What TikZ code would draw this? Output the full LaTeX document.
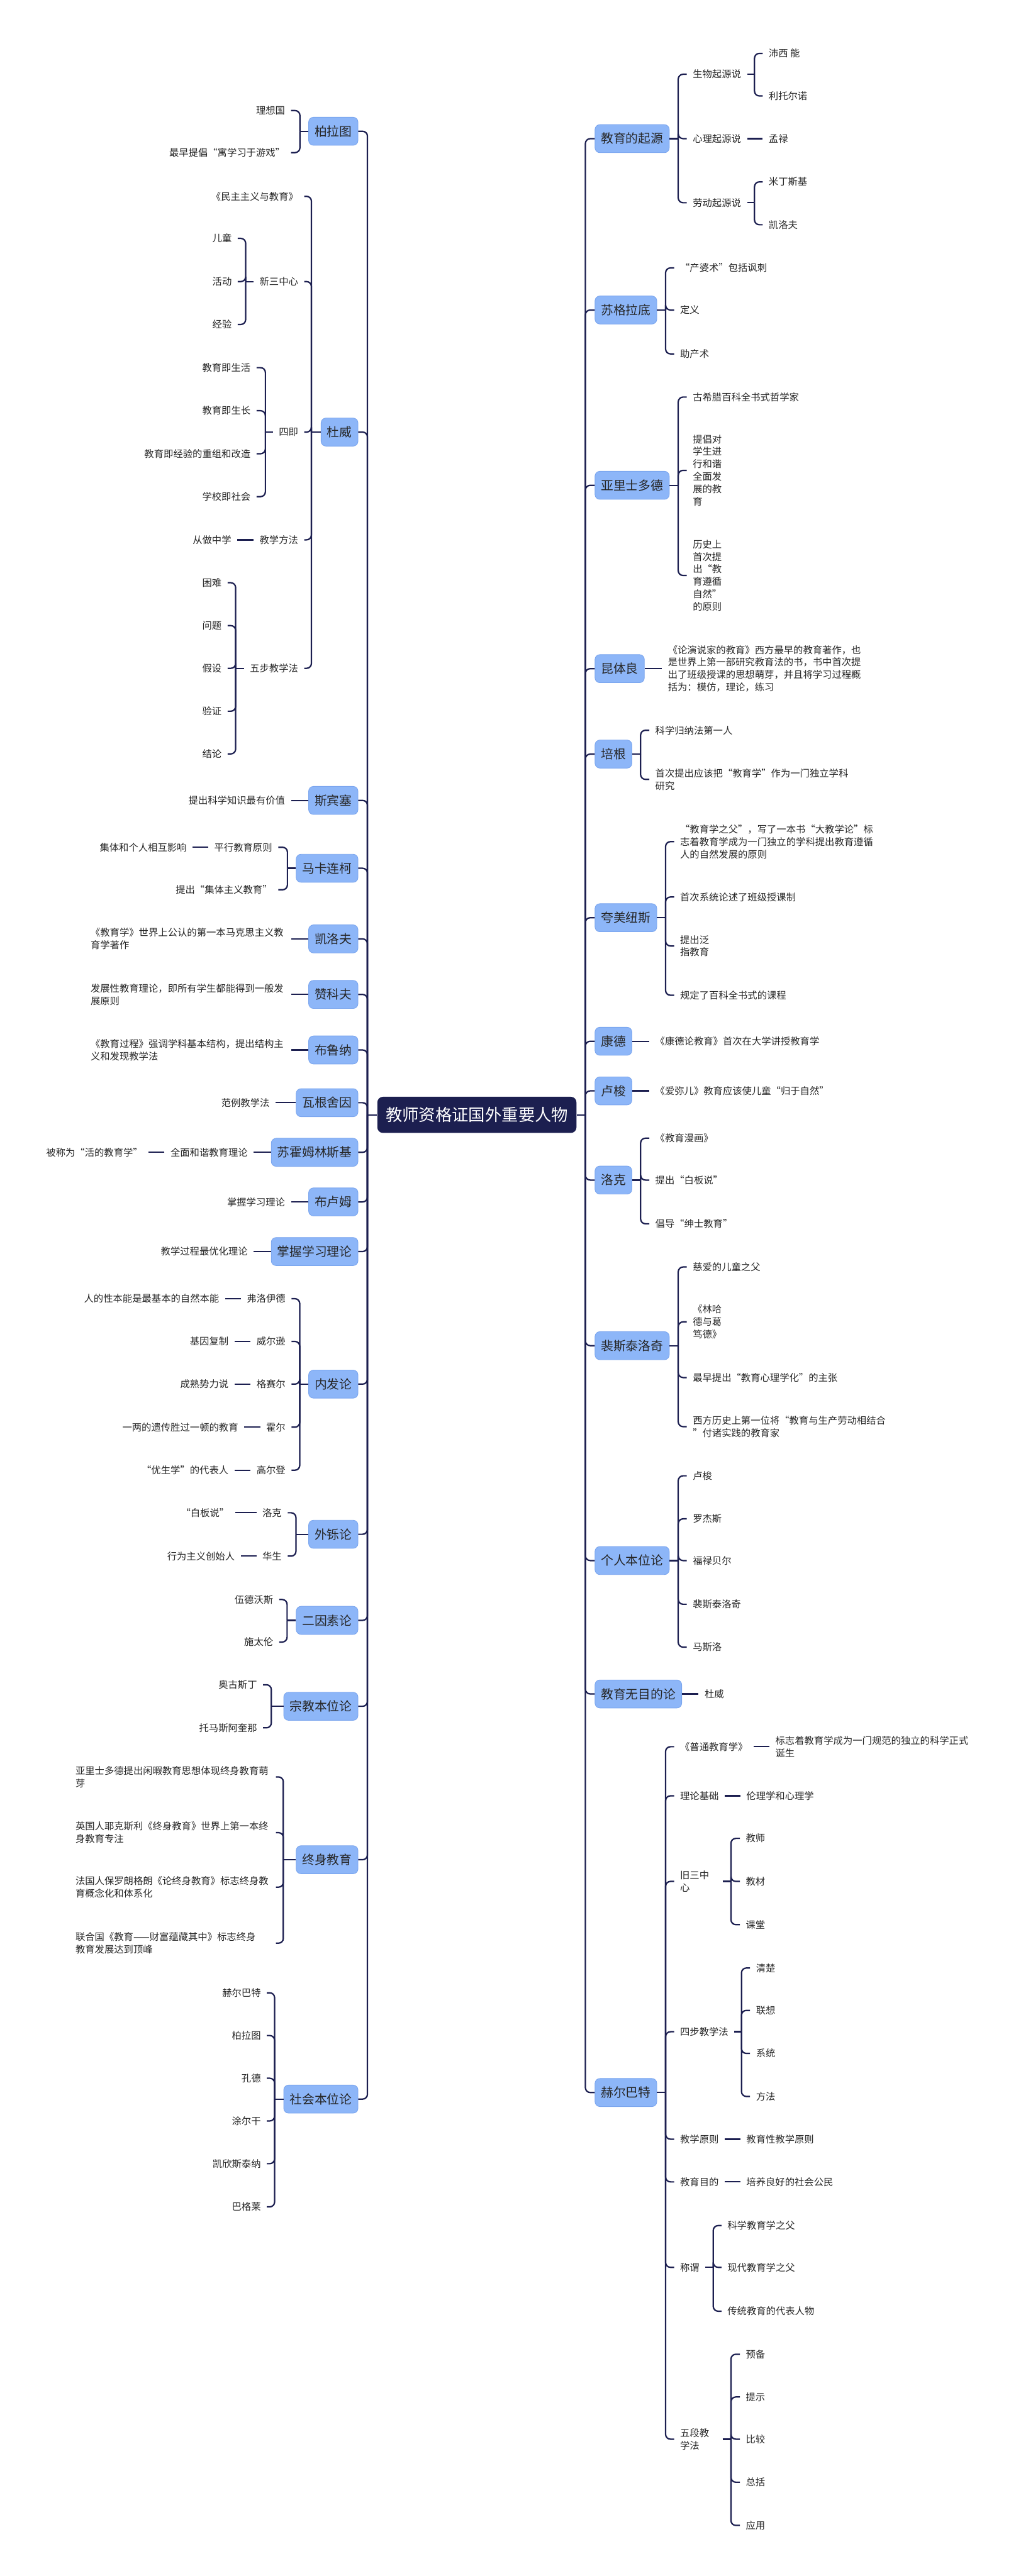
\documentclass[tikz,border=0pt]{standalone}
\usepackage{fontspec}
\setmainfont{Noto Sans CJK SC}
\usepackage{xcolor}
\definecolor{navy}{RGB}{28,31,80}
\definecolor{topicblue}{RGB}{141,182,248}
\definecolor{topicline}{RGB}{122,165,238}
\definecolor{leaftext}{RGB}{38,38,38}
\usepackage{tikz}

\begin{document}
\begin{tikzpicture}[x=0.041424cm, y=-0.041424cm,
        root/.style={fill=navy, text=white, rounded corners=4pt, font=\fontsize{11.9pt}{14pt}\selectfont, minimum height=0.911cm, inner xsep=0.209cm},
        topic/.style={fill=topicblue, draw=topicline, line width=0.4pt, rounded corners=3.5pt, text=leaftext, font=\fontsize{8.93pt}{11pt}\selectfont, minimum height=0.708cm, inner xsep=0.151cm},
        rtopic/.style={topic, anchor=west},
        ltopic/.style={topic, anchor=east},
        leaf/.style={text=leaftext, font=\fontsize{6.92pt}{8.96pt}\selectfont, inner xsep=0.145cm, inner ysep=1pt, align=left},
        rleaf/.style={leaf, anchor=west},
        lleaf/.style={leaf, anchor=east},
        para/.style={lleaf, text width=4.9cm},
        link/.style={draw=navy, line width=1pt, rounded corners=3.5pt}
    ]
        \useasboundingbox (0,0) rectangle (618,1568);
        \fill[white] (0,0) rectangle (618,1568);

        % Root
        \node[root] (root) at (290.2,678.6) {教师资格证国外重要人物};

        % Right topics
        \node[rtopic] (origin) at (361.9,84.4) {教育的起源};
        \node[rtopic] (socrates) at (361.9,188.7) {苏格拉底};
        \node[rtopic] (aristotle) at (361.9,295.4) {亚里士多德};
        \node[rtopic] (quintilian) at (361.9,407) {昆体良};
        \node[rtopic] (bacon) at (361.9,459) {培根};
        \node[rtopic] (comenius) at (361.9,558.6) {夸美纽斯};
        \node[rtopic] (kant) at (361.9,633.8) {康德};
        \node[rtopic] (rousseau) at (361.9,664) {卢梭};
        \node[rtopic] (locke) at (361.9,718.3) {洛克};
        \node[rtopic] (pesta) at (361.9,819.1) {裴斯泰洛奇};
        \node[rtopic] (indiv) at (361.9,949.9) {个人本位论};
        \node[rtopic] (noaim) at (361.9,1031.1) {教育无目的论};
        \node[rtopic] (herbart) at (361.9,1273.7) {赫尔巴特};

        % Left topics
        \node[ltopic] (plato) at (218,79.9) {柏拉图};
        \node[ltopic] (dewey) at (218,263) {杜威};
        \node[ltopic] (spencer) at (218,487.2) {斯宾塞};
        \node[ltopic] (makarenko) at (218,528.5) {马卡连柯};
        \node[ltopic] (kairov) at (218,571.5) {凯洛夫};
        \node[ltopic] (zankov) at (218,605.3) {赞科夫};
        \node[ltopic] (bruner) at (218,639.1) {布鲁纳};
        \node[ltopic] (wagen) at (218,671.2) {瓦根舍因};
        \node[ltopic] (sukhom) at (218,701.4) {苏霍姆林斯基};
        \node[ltopic] (bloom) at (218,731.6) {布卢姆};
        \node[ltopic] (mastery) at (218,761.8) {掌握学习理论};
        \node[ltopic] (endo) at (218,842.5) {内发论};
        \node[ltopic] (exo) at (218,933.9) {外铄论};
        \node[ltopic] (twofac) at (218,986.3) {二因素论};
        \node[ltopic] (religion) at (218,1038.6) {宗教本位论};
        \node[ltopic] (lifelong) at (218,1132) {终身教育};
        \node[ltopic] (social) at (218,1277.7) {社会本位论};

        % Origin of education
        \node[rleaf] (o1) at (417.9,45.2) {生物起源说};
        \node[rleaf] (o11) at (464.1,32.5) {沛西 能};
        \node[rleaf] (o12) at (464.1,58.4) {利托尔诺};
        \node[rleaf] (o2) at (417.9,84.4) {心理起源说};
        \node[rleaf] (o21) at (464.1,84.4) {孟禄};
        \node[rleaf] (o3) at (417.9,123.4) {劳动起源说};
        \node[rleaf] (o31) at (464.1,110.7) {米丁斯基};
        \node[rleaf] (o32) at (464.1,136.8) {凯洛夫};

        % Socrates
        \node[rleaf] (s1) at (410.2,163.1) {“产婆术”包括讽刺};
        \node[rleaf] (s2) at (410.2,188.7) {定义};
        \node[rleaf] (s3) at (410.2,215.4) {助产术};

        % Aristotle
        \node[rleaf] (a1) at (417.9,241.7) {古希腊百科全书式哲学家};
        \node[rleaf] (a2) at (417.9,286.3) {提倡对\\学生进\\行和谐\\全面发\\展的教\\育};
        \node[rleaf] (a3) at (417.9,350.3) {历史上\\首次提\\出“教\\育遵循\\自然”\\的原则};

        % Quintilian, Bacon
        \node[rleaf] (q1) at (402.8,407) {《论演说家的教育》西方最早的教育著作，也\\是世界上第一部研究教育法的书，书中首次提\\出了班级授课的思想萌芽，并且将学习过程概\\括为：模仿，理论，练习};
        \node[rleaf] (b1) at (395.1,444.5) {科学归纳法第一人};
        \node[rleaf] (b2) at (395.1,474.4) {首次提出应该把“教育学”作为一门独立学科\\研究};

        % Comenius
        \node[rleaf] (c1) at (410.2,512.3) {“教育学之父”，写了一本书“大教学论”标\\志着教育学成为一门独立的学科提出教育遵循\\人的自然发展的原则};
        \node[rleaf] (c2) at (410.2,546) {首次系统论述了班级授课制};
        \node[rleaf] (c3) at (410.2,575.8) {提出泛\\指教育};
        \node[rleaf] (c4) at (410.2,605.8) {规定了百科全书式的课程};

        % Kant, Rousseau, Locke
        \node[rleaf] (k1) at (395.1,633.8) {《康德论教育》首次在大学讲授教育学};
        \node[rleaf] (r1) at (395.1,664) {《爱弥儿》教育应该使儿童“归于自然”};
        \node[rleaf] (l1) at (395.1,692.8) {《教育漫画》};
        \node[rleaf] (l2) at (395.1,718.3) {提出“白板说”};
        \node[rleaf] (l3) at (395.1,744.9) {倡导“绅士教育”};

        % Pestalozzi
        \node[rleaf] (p1) at (417.9,771.2) {慈爱的儿童之父};
        \node[rleaf] (p2) at (417.9,804.6) {《林哈\\德与葛\\笃德》};
        \node[rleaf] (p3) at (417.9,838.5) {最早提出“教育心理学化”的主张};
        \node[rleaf] (p4) at (417.9,868.4) {西方历史上第一位将“教育与生产劳动相结合\\”付诸实践的教育家};

        % Individual-centred
        \node[rleaf] (i1) at (417.9,898.3) {卢梭};
        \node[rleaf] (i2) at (417.9,924.5) {罗杰斯};
        \node[rleaf] (i3) at (417.9,949.9) {福禄贝尔};
        \node[rleaf] (i4) at (417.9,976.5) {裴斯泰洛奇};
        \node[rleaf] (i5) at (417.9,1002.6) {马斯洛};
        \node[rleaf] (n1) at (425.1,1031.1) {杜威};

        % Herbart
        \node[rleaf] (h1) at (410.2,1063.2) {《普通教育学》};
        \node[rleaf] (h11) at (468.2,1063.2) {标志着教育学成为一门规范的独立的科学正式\\诞生};
        \node[rleaf] (h2) at (410.2,1093.1) {理论基础};
        \node[rleaf] (h21) at (450.5,1093.1) {伦理学和心理学};
        \node[rleaf, text width=0.92cm] (h3) at (410.2,1145.2) {旧三中\\心};
        \node[rleaf] (h31) at (450.2,1119) {教师};
        \node[rleaf] (h32) at (450.2,1145.2) {教材};
        \node[rleaf] (h33) at (450.2,1171.5) {课堂};
        \node[rleaf] (h4) at (410.2,1236.7) {四步教学法};
        \node[rleaf] (h41) at (456.4,1197.9) {清楚};
        \node[rleaf] (h42) at (456.4,1223.7) {联想};
        \node[rleaf] (h43) at (456.4,1249.9) {系统};
        \node[rleaf] (h44) at (456.4,1276.1) {方法};
        \node[rleaf] (h5) at (410.2,1302.1) {教学原则};
        \node[rleaf] (h51) at (450.5,1302.1) {教育性教学原则};
        \node[rleaf] (h6) at (410.2,1328.1) {教育目的};
        \node[rleaf] (h61) at (450.5,1328.1) {培养良好的社会公民};
        \node[rleaf] (h7) at (410.2,1380.1) {称谓};
        \node[rleaf] (h71) at (439,1354.7) {科学教育学之父};
        \node[rleaf] (h72) at (439,1380.1) {现代教育学之父};
        \node[rleaf] (h73) at (439,1406.8) {传统教育的代表人物};
        \node[rleaf, text width=0.92cm] (h8) at (410.2,1484.7) {五段教\\学法};
        \node[rleaf] (h81) at (450.2,1433) {预备};
        \node[rleaf] (h82) at (450.2,1459) {提示};
        \node[rleaf] (h83) at (450.2,1484.7) {比较};
        \node[rleaf] (h84) at (450.2,1510.9) {总括};
        \node[rleaf] (h85) at (450.2,1537.2) {应用};

        % Plato, Dewey
        \node[lleaf] (pl1) at (177.1,67.3) {理想国};
        \node[lleaf] (pl2) at (177.1,92.9) {最早提倡“寓学习于游戏”};
        \node[lleaf] (d1) at (185.1,119.5) {《民主主义与教育》};
        \node[lleaf] (d2) at (185.1,171.4) {新三中心};
        \node[lleaf] (d21) at (144.7,145.1) {儿童};
        \node[lleaf] (d22) at (144.7,171.4) {活动};
        \node[lleaf] (d23) at (144.7,197.5) {经验};
        \node[lleaf] (d3) at (185.1,263) {四即};
        \node[lleaf] (d31) at (156.1,223.8) {教育即生活};
        \node[lleaf] (d32) at (156.1,250) {教育即生长};
        \node[lleaf] (d33) at (156.1,276.2) {教育即经验的重组和改造};
        \node[lleaf] (d34) at (156.1,302.3) {学校即社会};
        \node[lleaf] (d4) at (185.1,328.6) {教学方法};
        \node[lleaf] (d41) at (144.4,328.6) {从做中学};
        \node[lleaf] (d5) at (185.1,406.8) {五步教学法};
        \node[lleaf] (d51) at (138.5,354.7) {困难};
        \node[lleaf] (d52) at (138.5,380.8) {问题};
        \node[lleaf] (d53) at (138.5,406.8) {假设};
        \node[lleaf] (d54) at (138.5,432.9) {验证};
        \node[lleaf] (d55) at (138.5,458.9) {结论};

        % Spencer to Mastery
        \node[lleaf] (sp1) at (177.1,487.2) {提出科学知识最有价值};
        \node[lleaf] (m1) at (169.3,515.7) {平行教育原则};
        \node[lleaf] (m11) at (117.2,515.7) {集体和个人相互影响};
        \node[lleaf] (m2) at (169.3,541.6) {提出“集体主义教育”};
        \node[para] (kv1) at (177.1,571.5) {《教育学》世界上公认的第一本马克思主义教\\育学著作};
        \node[para] (z1) at (177.1,605.3) {发展性教育理论，即所有学生都能得到一般发\\展原则};
        \node[para] (br1) at (177.1,639.1) {《教育过程》强调学科基本结构，提出结构主\\义和发现教学法};
        \node[lleaf] (w1) at (167.7,671.2) {范例教学法};
        \node[lleaf] (su1) at (154.4,701.4) {全面和谐教育理论};
        \node[lleaf] (su11) at (90.5,701.4) {被称为“活的教育学”};
        \node[lleaf] (bl1) at (177.1,731.6) {掌握学习理论};
        \node[lleaf] (ms1) at (154.4,761.8) {教学过程最优化理论};

        % Endogenous, exogenous
        \node[lleaf] (e1) at (177.4,790.5) {弗洛伊德};
        \node[lleaf] (e11) at (137,790.5) {人的性本能是最基本的自然本能};
        \node[lleaf] (e2) at (177.4,816.5) {威尔逊};
        \node[lleaf] (e21) at (142.7,816.5) {基因复制};
        \node[lleaf] (e3) at (177.4,842.5) {格赛尔};
        \node[lleaf] (e31) at (142.7,842.5) {成熟势力说};
        \node[lleaf] (e4) at (177.4,868.7) {霍尔};
        \node[lleaf] (e41) at (148.6,868.7) {一两的遗传胜过一顿的教育};
        \node[lleaf] (e5) at (177.4,894.9) {高尔登};
        \node[lleaf] (e51) at (142.7,894.9) {“优生学”的代表人};
        \node[lleaf] (x1) at (175.1,920.8) {洛克};
        \node[lleaf] (x11) at (143.1,920.8) {“白板说”};
        \node[lleaf] (x2) at (175.1,947.2) {华生};
        \node[lleaf] (x21) at (146.5,947.2) {行为主义创始人};

        % Two factors, religion
        \node[lleaf] (tf1) at (169.9,973.6) {伍德沃斯};
        \node[lleaf] (tf2) at (169.9,999.5) {施太伦};
        \node[lleaf] (rl1) at (160.1,1025.5) {奥古斯丁};
        \node[lleaf] (rl2) at (160.1,1051.7) {托马斯阿奎那};

        % Lifelong education
        \node[para] (ll1) at (167.9,1081.6) {亚里士多德提出闲暇教育思想体现终身教育萌\\芽};
        \node[para] (ll2) at (167.9,1115.5) {英国人耶克斯利《终身教育》世界上第一本终\\身教育专注};
        \node[para] (ll3) at (167.9,1148.7) {法国人保罗朗格朗《论终身教育》标志终身教\\育概念化和体系化};
        \node[para] (ll4) at (167.9,1182.8) {联合国《教育——财富蕴藏其中》标志终身\\教育发展达到顶峰};

        % Society-centred
        \node[lleaf] (so1) at (162.4,1213) {赫尔巴特};
        \node[lleaf] (so2) at (162.4,1239) {柏拉图};
        \node[lleaf] (so3) at (162.4,1265) {孔德};
        \node[lleaf] (so4) at (162.4,1291) {涂尔干};
        \node[lleaf] (so5) at (162.4,1317) {凯欣斯泰纳};
        \node[lleaf] (so6) at (162.4,1343.3) {巴格莱};

        % Spines
        \coordinate (rj) at (356.2,678.6);
        \coordinate (lj) at (223.6,678.6);
        \draw[link] (root.east) -- (rj);
        \draw[link] (root.west) -- (lj);
        \foreach \t in {origin,socrates,aristotle,quintilian,bacon,comenius,kant,rousseau,locke,pesta,indiv,noaim,herbart}
            \draw[link] (rj) |- (\t.west);
        \foreach \t in {plato,dewey,spencer,makarenko,kairov,zankov,bruner,wagen,sukhom,bloom,mastery,endo,exo,twofac,religion,lifelong,social}
            \draw[link] (lj) |- (\t.east);

        % Right connections
        \coordinate (oj) at (412.7,84.4);
        \draw[link] (origin.east) -- (oj);
        \foreach \c in {o1,o2,o3} \draw[link] (oj) |- (\c.west);
        \coordinate (o1j) at (459.1,45.2);
        \draw[link] (o1.east) -- (o1j);
        \foreach \c in {o11,o12} \draw[link] (o1j) |- (\c.west);
        \draw[link] (o2.east) -- (o21.west);
        \coordinate (o3j) at (459.1,123.4);
        \draw[link] (o3.east) -- (o3j);
        \foreach \c in {o31,o32} \draw[link] (o3j) |- (\c.west);

        \coordinate (sj) at (405,188.7);
        \draw[link] (socrates.east) -- (sj);
        \foreach \c in {s1,s2,s3} \draw[link] (sj) |- (\c.west);
        \coordinate (aj) at (412.7,295.4);
        \draw[link] (aristotle.east) -- (aj);
        \foreach \c in {a1,a2,a3} \draw[link] (aj) |- (\c.west);
        \draw[link] (quintilian.east) -- (q1.west);
        \coordinate (bj) at (389.8,459);
        \draw[link] (bacon.east) -- (bj);
        \foreach \c in {b1,b2} \draw[link] (bj) |- (\c.west);
        \coordinate (cj) at (405,558.6);
        \draw[link] (comenius.east) -- (cj);
        \foreach \c in {c1,c2,c3,c4} \draw[link] (cj) |- (\c.west);
        \draw[link] (kant.east) -- (k1.west);
        \draw[link] (rousseau.east) -- (r1.west);
        \coordinate (lkj) at (389.8,718.3);
        \draw[link] (locke.east) -- (lkj);
        \foreach \c in {l1,l2,l3} \draw[link] (lkj) |- (\c.west);
        \coordinate (pj) at (412.7,819.1);
        \draw[link] (pesta.east) -- (pj);
        \foreach \c in {p1,p2,p3,p4} \draw[link] (pj) |- (\c.west);
        \coordinate (ij) at (412.7,949.9);
        \draw[link] (indiv.east) -- (ij);
        \foreach \c in {i1,i2,i3,i4,i5} \draw[link] (ij) |- (\c.west);
        \draw[link] (noaim.east) -- (n1.west);

        \coordinate (hj) at (405,1273.7);
        \draw[link] (herbart.east) -- (hj);
        \foreach \c in {h1,h2,h3,h4,h5,h6,h7,h8} \draw[link] (hj) |- (\c.west);
        \draw[link] (h1.east) -- (h11.west);
        \draw[link] (h2.east) -- (h21.west);
        \coordinate (h3j) at (444.8,1145.2);
        \draw[link] (h3.east) -- (h3j);
        \foreach \c in {h31,h32,h33} \draw[link] (h3j) |- (\c.west);
        \coordinate (h4j) at (451.2,1236.7);
        \draw[link] (h4.east) -- (h4j);
        \foreach \c in {h41,h42,h43,h44} \draw[link] (h4j) |- (\c.west);
        \draw[link] (h5.east) -- (h51.west);
        \draw[link] (h6.east) -- (h61.west);
        \coordinate (h7j) at (434,1380.1);
        \draw[link] (h7.east) -- (h7j);
        \foreach \c in {h71,h72,h73} \draw[link] (h7j) |- (\c.west);
        \coordinate (h8j) at (444.8,1484.7);
        \draw[link] (h8.east) -- (h8j);
        \foreach \c in {h81,h82,h83,h84,h85} \draw[link] (h8j) |- (\c.west);

        % Left connections
        \coordinate (plj) at (182.5,79.9);
        \draw[link] (plato.west) -- (plj);
        \foreach \c in {pl1,pl2} \draw[link] (plj) |- (\c.east);
        \coordinate (dj) at (189.5,263);
        \draw[link] (dewey.west) -- (dj);
        \foreach \c in {d1,d2,d3,d4,d5} \draw[link] (dj) |- (\c.east);
        \coordinate (d2j) at (149.5,171.4);
        \draw[link] (d2.west) -- (d2j);
        \foreach \c in {d21,d22,d23} \draw[link] (d2j) |- (\c.east);
        \coordinate (d3j) at (161.5,263);
        \draw[link] (d3.west) -- (d3j);
        \foreach \c in {d31,d32,d33,d34} \draw[link] (d3j) |- (\c.east);
        \draw[link] (d4.west) -- (d41.east);
        \coordinate (d5j) at (143.4,406.8);
        \draw[link] (d5.west) -- (d5j);
        \foreach \c in {d51,d52,d53,d54,d55} \draw[link] (d5j) |- (\c.east);

        \draw[link] (spencer.west) -- (sp1.east);
        \coordinate (mj) at (174.9,528.5);
        \draw[link] (makarenko.west) -- (mj);
        \foreach \c in {m1,m2} \draw[link] (mj) |- (\c.east);
        \draw[link] (m1.west) -- (m11.east);
        \draw[link] (kairov.west) -- (kv1.east);
        \draw[link] (zankov.west) -- (z1.east);
        \draw[link] (bruner.west) -- (br1.east);
        \draw[link] (wagen.west) -- (w1.east);
        \draw[link] (sukhom.west) -- (su1.east);
        \draw[link] (su1.west) -- (su11.east);
        \draw[link] (bloom.west) -- (bl1.east);
        \draw[link] (mastery.west) -- (ms1.east);

        \coordinate (ej) at (182.4,842.5);
        \draw[link] (endo.west) -- (ej);
        \foreach \c in {e1,e2,e3,e4,e5} {
            \draw[link] (ej) |- (\c.east);
            \draw[link] (\c.west) -- (\c1.east);
        }
        \coordinate (xj) at (180.1,933.9);
        \draw[link] (exo.west) -- (xj);
        \foreach \c in {x1,x2} {
            \draw[link] (xj) |- (\c.east);
            \draw[link] (\c.west) -- (\c1.east);
        }
        \coordinate (tj) at (174.7,986.3);
        \draw[link] (twofac.west) -- (tj);
        \foreach \c in {tf1,tf2} \draw[link] (tj) |- (\c.east);
        \coordinate (rlj) at (165.1,1038.6);
        \draw[link] (religion.west) -- (rlj);
        \foreach \c in {rl1,rl2} \draw[link] (rlj) |- (\c.east);
        \coordinate (llj) at (172.4,1132);
        \draw[link] (lifelong.west) -- (llj);
        \foreach \c in {ll1,ll2,ll3,ll4} \draw[link] (llj) |- (\c.east);
        \coordinate (soj) at (167.1,1277.7);
        \draw[link] (social.west) -- (soj);
        \foreach \c in {so1,so2,so3,so4,so5,so6} \draw[link] (soj) |- (\c.east);
    \end{tikzpicture}
\end{document}
